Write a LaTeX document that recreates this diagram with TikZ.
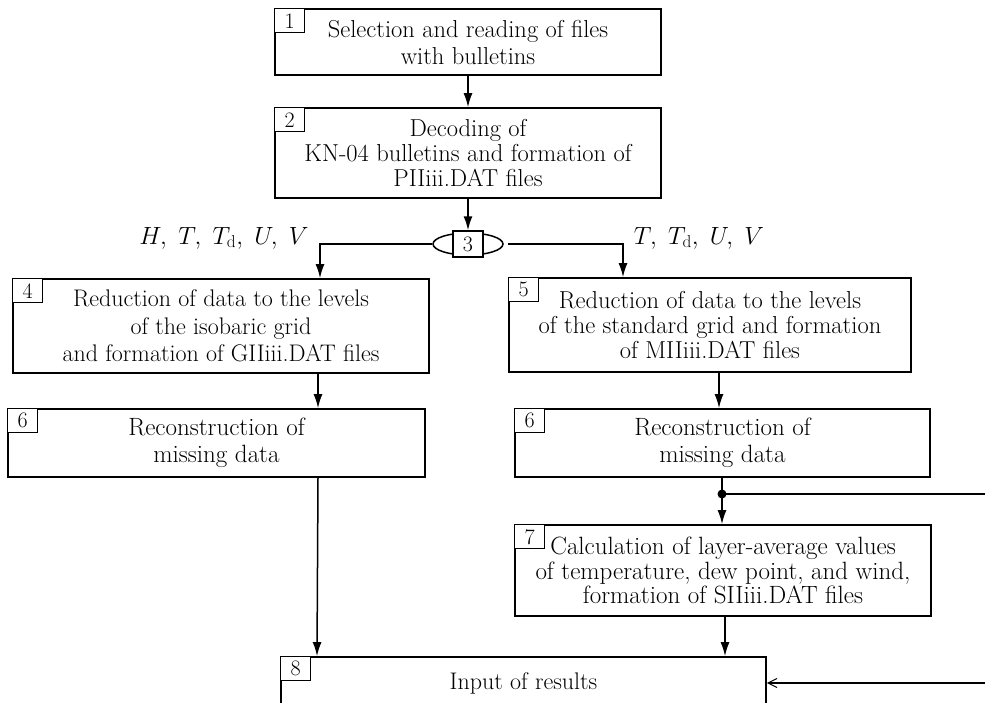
\documentclass[tikz,border=0pt]{standalone}
\usepackage{tikz}
\usetikzlibrary{arrows.meta, shapes.geometric, calc}
\newcommand{\boxfont}[2]{\fontsize{#1}{#2}\selectfont}
\tikzset{
	blockbox/.style={draw, line width=1.8pt, align=center, inner sep=0pt}
}
\tikzset{
	numbox/.style={draw, fill=white, line width=1.3pt, anchor=north west, minimum width=30pt, minimum height=24pt, inner sep=0pt, font=\boxfont{22}{25}}
}
\tikzset{
	flowarrow/.style={line width=1.5pt, -{Latex[length=14pt,width=9pt]}},
	flowline/.style={line width=1.5pt},
	inarrow/.style={line width=1.2pt, -{Straight Barb[length=9pt,width=9pt,line width=1pt]}}
}

\begin{document}
\begin{tikzpicture}[x=1pt,y=-1pt]
      \useasboundingbox (0,0) rectangle (985,702);
      \clip (0,0) rectangle (985,702);
      \node[blockbox, font=\boxfont{24.5}{27}, minimum width=386pt, minimum height=66pt] (n1) at (468,42) {Selection and reading of files\\with bulletins};
      \node[blockbox, font=\boxfont{24.5}{25}, minimum width=386pt, minimum height=90pt] (n2) at (468,153) {Decoding of\\KN-04 bulletins and formation of\\PIIiii.DAT files};
      \node[draw, ellipse, line width=1.5pt, minimum width=70pt, minimum height=22pt, inner sep=0pt] (n3) at (468,244) {};
      \node[draw, fill=white, line width=1.5pt, minimum width=30pt, minimum height=26pt, inner sep=0pt, font=\boxfont{22}{25}] (n3box) at (468,244) {3};
      \node[blockbox, font=\boxfont{24}{27.5}, minimum width=416pt, minimum height=94pt] (n4) at (221,326) {Reduction of data to the levels\\of the isobaric grid\\and formation of GIIiii.DAT files};
      \node[blockbox, font=\boxfont{24.5}{25}, minimum width=402pt, minimum height=94pt] (n5) at (710,325) {Reduction of data to the levels\\of the standard grid and formation\\of MIIiii.DAT files};
      \node[blockbox, font=\boxfont{25}{27}, minimum width=417pt, minimum height=68pt] (n6a) at (216.5,443) {Reconstruction of\\missing data};
      \node[blockbox, font=\boxfont{25}{27}, minimum width=415pt, minimum height=68pt] (n6b) at (722.5,443) {Reconstruction of\\missing data};
      \node[blockbox, font=\boxfont{25}{24.5}, minimum width=416pt, minimum height=91pt] (n7) at (723,570.5) {Calculation of layer-average values\\of temperature, dew point, and wind,\\formation of SIIiii.DAT files};
      \node[blockbox, font=\boxfont{24}{27}, minimum width=485pt, minimum height=52pt] (n8) at (523.5,683) {Input of results};
      \node[numbox] (num1) at (n1.north west) {1};
      \node[numbox] (num2) at (n2.north west) {2};
      \node[numbox] (num4) at (n4.north west) {4};
      \node[numbox] (num5) at (n5.north west) {5};
      \node[numbox] (num6a) at (n6a.north west) {6};
      \node[numbox] (num6b) at (n6b.north west) {6};
      \node[numbox] (num7) at (n7.north west) {7};
      \node[numbox] (num8) at (n8.north west) {8};
      \node[font=\boxfont{23.7}{27}] (lblleft) at (224,238) {$H,\ T,\ T_{\mathrm{d}},\ U,\ V$};
      \node[font=\boxfont{23.7}{27}] (lblright) at (699,238) {$T,\ T_{\mathrm{d}},\ U,\ V$};
      \coordinate (dot) at (722,494);
      \coordinate (rightin) at (985,494);
      \coordinate (rightout) at (985,683);
      \draw[flowarrow] (n1.south -| n3) -- (n2.north -| n3);
      \draw[flowarrow] (n2.south -| n3) -- (n3box.north);
      \draw[flowarrow] (n3.west) -| ([xshift=99pt]n4.north);
      \draw[flowarrow] ([xshift=4pt]n3.east) -| ([xshift=-87pt]n5.north);
      \draw[flowarrow] ([xshift=97pt]n4.south) -- ([xshift=97pt]n4.south |- n6a.north);
      \draw[flowarrow] ([xshift=9pt]n5.south) -- ([xshift=9pt]n5.south |- n6b.north);
      \draw[flowline] (n6b.south -| dot) -- (dot) -- (rightin);
      \fill (dot) circle (4.5pt);
      \draw[flowarrow] (dot) -- (dot |- n7.north);
      \draw[flowarrow] ([xshift=2pt]n7.south) -- ([xshift=2pt]n7.south |- n8.north);
      \draw[flowarrow] ([xshift=101.5pt]n6a.south) -- ([xshift=-206.5pt]n8.north);
      \draw[inarrow] (rightout) -- (n8.east);
    \end{tikzpicture}
\end{document}
